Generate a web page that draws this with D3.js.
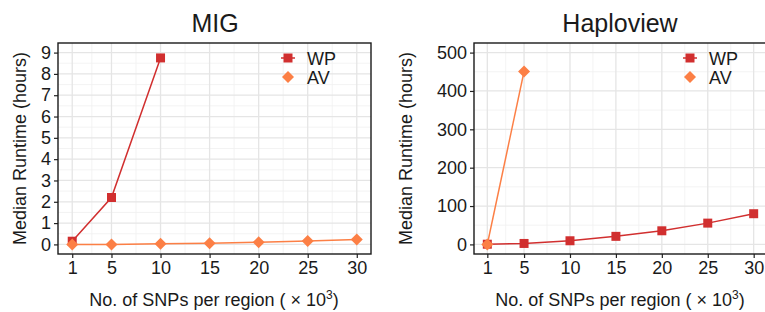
<!DOCTYPE html>
<html>
<head>
<meta charset="utf-8">
<script src="https://cdn.jsdelivr.net/npm/d3@7"></script>
<style>
  body { margin: 0; background: #fff; }
  text { font-family: "Liberation Sans", Arial, sans-serif; fill: #1a1a1a; }
</style>
</head>
<body>
<div id="chart"></div>
<script>
// x values (thousands of SNPs)
var snps = [1, 5, 10, 15, 20, 25, 30];
var xTicks = [1, 5, 10, 15, 20, 25, 30];

// MIG panel
var migWP = [0.15, 2.2, 8.75];
var migAV = [0, 0, 0.03, 0.06, 0.1, 0.16, 0.23];
var migYTicks = [0, 1, 2, 3, 4, 5, 6, 7, 8, 9];

// Haploview panel
var hapWP = [0.5, 2.5, 9.5, 21, 35.5, 55.5, 80];
var hapAV = [0, 451];
var hapYTicks = [0, 100, 200, 300, 400, 500];

var colWP = "#d12f2f", colAV = "#fc7f45";

var svg = d3.select("#chart").append("svg")
  .attr("width", 765).attr("height", 312);

function panel(opt) {
  var m = opt.box;
  var g = svg.append("g");
  var x = d3.scaleLinear().domain([-0.45, 31.45]).range([m.left, m.right]);
  var y = d3.scaleLinear().domain(opt.ydom).range([m.bottom, m.top]);

  g.append("rect").attr("x", m.left).attr("y", m.top)
    .attr("width", m.right - m.left).attr("height", m.bottom - m.top)
    .attr("fill", "#fff");

  // minor grid
  var xMinor = [3, 7.5, 12.5, 17.5, 22.5, 27.5];
  var yt = opt.yticks, step = yt[1] - yt[0];
  var yMinor = yt.slice(0, -1).map(function(d) { return d + step / 2; });
  g.selectAll(".xmin").data(xMinor).enter().append("line")
    .attr("x1", d => x(d)).attr("x2", d => x(d))
    .attr("y1", m.top).attr("y2", m.bottom)
    .attr("stroke", "#f0f0f0").attr("stroke-width", 0.8);
  g.selectAll(".ymin").data(yMinor).enter().append("line")
    .attr("x1", m.left).attr("x2", m.right)
    .attr("y1", d => y(d)).attr("y2", d => y(d))
    .attr("stroke", "#f0f0f0").attr("stroke-width", 0.8);
  // major grid
  g.selectAll(".xmaj").data(xTicks).enter().append("line")
    .attr("x1", d => x(d)).attr("x2", d => x(d))
    .attr("y1", m.top).attr("y2", m.bottom)
    .attr("stroke", "#e5e5e5").attr("stroke-width", 1.3);
  g.selectAll(".ymaj").data(yt).enter().append("line")
    .attr("x1", m.left).attr("x2", m.right)
    .attr("y1", d => y(d)).attr("y2", d => y(d))
    .attr("stroke", "#e5e5e5").attr("stroke-width", 1.3);

  // axes
  var xa = g.append("g").attr("transform", "translate(0," + m.bottom + ")")
    .call(d3.axisBottom(x).tickValues(xTicks).tickSize(4).tickPadding(3));
  var ya = g.append("g").attr("transform", "translate(" + m.left + ",0)")
    .call(d3.axisLeft(y).tickValues(yt).tickSize(4).tickPadding(3));
  [xa, ya].forEach(function(a) {
    a.select(".domain").remove();
    a.selectAll(".tick line").attr("stroke", "#222").attr("stroke-width", 1.2);
    a.selectAll(".tick text").style("font-size", "18px").attr("fill", "#1a1a1a")
      .style("font-family", "'Liberation Sans', Arial, sans-serif");
  });

  // lines + points
  var line = d3.line().x(d => x(d[0])).y(d => y(d[1]));
  function series(vals, col, shape) {
    var pts = vals.map(function(v, i) { return [snps[i], v]; });
    g.append("path").datum(pts).attr("d", line)
      .attr("fill", "none").attr("stroke", col).attr("stroke-width", 1.5);
    g.selectAll(null).data(pts).enter().append("path")
      .attr("transform", d => "translate(" + x(d[0]) + "," + y(d[1]) + ")")
      .attr("d", shape == "sq" ? "M-4.5,-4.5H4.5V4.5H-4.5Z" : "M0,-6L6,0L0,6L-6,0Z")
      .attr("fill", col);
  }
  if (opt.avFirst) {
    series(opt.av, colAV, "di");
    series(opt.wp, colWP, "sq");
  } else {
    series(opt.wp, colWP, "sq");
    series(opt.av, colAV, "di");
  }

  // border
  g.append("rect").attr("x", m.left).attr("y", m.top)
    .attr("width", m.right - m.left).attr("height", m.bottom - m.top)
    .attr("fill", "none").attr("stroke", "#1a1a1a").attr("stroke-width", 1.4);

  // legend
  var lx = opt.legX;
  g.append("line").attr("x1", lx - 7).attr("x2", lx + 7).attr("y1", 58).attr("y2", 58)
    .attr("stroke", colWP).attr("stroke-width", 1.5);
  g.append("path").attr("transform", "translate(" + lx + ",58)")
    .attr("d", "M-4.5,-4.5H4.5V4.5H-4.5Z").attr("fill", colWP);
  g.append("path").attr("transform", "translate(" + lx + ",77)")
    .attr("d", "M0,-6L6,0L0,6L-6,0Z").attr("fill", colAV);
  g.append("text").attr("x", lx + 19).attr("y", 64.5).style("font-size", "18px").text("WP");
  g.append("text").attr("x", lx + 19).attr("y", 83.5).style("font-size", "18px").text("AV");

  // titles
  g.append("text").attr("x", opt.titleX).attr("y", 32).attr("text-anchor", "middle")
    .style("font-size", "25px").text(opt.title);
  var xt = g.append("text").attr("x", opt.xlabX).attr("y", 306).attr("text-anchor", "middle")
    .style("font-size", "18px");
  xt.append("tspan").text("No. of SNPs per region ( \u00d7 10");
  xt.append("tspan").attr("dy", -7).style("font-size", "12px").text("3");
  xt.append("tspan").attr("dy", 7).text(")");
  g.append("text").attr("transform", "translate(" + opt.ylabX + "," + ((m.top + m.bottom) / 2) + ")rotate(-90)")
    .attr("text-anchor", "middle").style("font-size", "18px").text("Median Runtime (hours)");
}

panel({
  box: {left: 58, right: 371, top: 43, bottom: 254},
  ydom: [-0.45, 9.45], yticks: migYTicks,
  wp: migWP, av: migAV, legX: 288, avFirst: false,
  title: "MIG", titleX: 215, xlabX: 214, ylabX: 26
});
panel({
  box: {left: 474, right: 767, top: 43, bottom: 254},
  ydom: [-25, 525], yticks: hapYTicks,
  wp: hapWP, av: hapAV, legX: 690, avFirst: false,
  title: "Haploview", titleX: 620, xlabX: 620, ylabX: 412
});
</script>
</body>
</html>
